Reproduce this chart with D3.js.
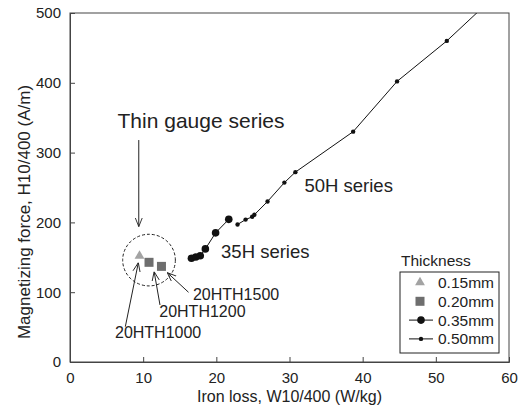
<!DOCTYPE html>
<html>
<head>
<meta charset="utf-8">
<script src="https://cdn.jsdelivr.net/npm/d3@7"></script>
<style>
  body { margin: 0; background: #fff; }
  svg { font-family: "Liberation Sans", Arial, sans-serif; }
</style>
</head>
<body>
<div id="chart"></div>
<script>
// data: [iron loss W/kg, H A/m]
const series50H = [[22.9, 197], [24.0, 204], [24.9, 208], [25.2, 211], [27.0, 230], [29.3, 257],
                   [30.8, 272], [38.7, 330], [44.7, 402], [51.5, 460], [56.4, 508]];
const series35H = [[16.6, 148.6], [17.2, 150.4], [17.8, 152.3], [18.5, 162], [19.9, 185], [21.7, 204.4]];
const thin015 = [[9.5, 152]];
const thin020 = [[10.8, 142.8], [12.5, 137]];
const xTicks = [0, 10, 20, 30, 40, 50, 60];
const yTicks = [0, 100, 200, 300, 400, 500];
const legendItems = ["0.15mm", "0.20mm", "0.35mm", "0.50mm"];

const width = 526, height = 410;
const margin = {top: 13, right: 17, bottom: 48, left: 70};

const svg = d3.select("#chart").append("svg")
    .attr("width", width)
    .attr("height", height);

const x = d3.scaleLinear().domain([0, 60]).range([margin.left, width - margin.right]);
const y = d3.scaleLinear().domain([0, 500]).range([height - margin.bottom, margin.top]);

const textCol = "#222";

// arrow marker
svg.append("defs").append("marker")
    .attr("id", "arr")
    .attr("viewBox", "0 -5 10 10")
    .attr("refX", 10).attr("refY", 0)
    .attr("markerWidth", 9).attr("markerHeight", 9)
    .attr("markerUnits", "userSpaceOnUse")
    .attr("orient", "auto")
    .append("path")
    .attr("d", "M0,-4L10,0L0,4")
    .attr("fill", "none")
    .attr("stroke", "#222")
    .attr("stroke-width", 1);

svg.select("defs").append("clipPath").attr("id", "clip")
    .append("rect")
    .attr("x", margin.left).attr("y", margin.top)
    .attr("width", x(60) - x(0)).attr("height", y(0) - y(500));

// frame
svg.append("rect")
    .attr("x", x(0)).attr("y", y(500))
    .attr("width", x(60) - x(0)).attr("height", y(0) - y(500))
    .attr("fill", "none").attr("stroke", "#444").attr("stroke-width", 1);

// axes with inward ticks
const xAxis = svg.append("g")
    .attr("transform", `translate(0,${y(0)})`)
    .call(d3.axisBottom(x).tickValues(xTicks).tickSize(-5).tickPadding(10));
const yAxis = svg.append("g")
    .attr("transform", `translate(${x(0)},0)`)
    .call(d3.axisLeft(y).tickValues(yTicks).tickSize(-5).tickPadding(9));

[xAxis, yAxis].forEach(a => {
    a.select(".domain").attr("stroke", "#444");
    a.selectAll(".tick line").attr("stroke", "#444");
    a.selectAll(".tick text").attr("font-size", 15).attr("fill", textCol).attr("font-family", null);
});

// axis titles
svg.append("text")
    .attr("x", (x(0) + x(60)) / 2).attr("y", 402)
    .attr("text-anchor", "middle").attr("font-size", 16).attr("fill", textCol)
    .text("Iron loss, W10/400 (W/kg)");
svg.append("text")
    .attr("transform", `translate(30,212) rotate(-90)`)
    .attr("text-anchor", "middle").attr("font-size", 17).attr("fill", textCol)
    .text("Magnetizing force, H10/400 (A/m)");

const line = d3.line().x(d => x(d[0])).y(d => y(d[1]));
const plot = svg.append("g").attr("clip-path", "url(#clip)");

// 50H series
plot.append("path").datum(series50H)
    .attr("d", line).attr("fill", "none").attr("stroke", "#111").attr("stroke-width", 1);
plot.selectAll(".p50").data(series50H).join("circle")
    .attr("class", "p50")
    .attr("cx", d => x(d[0])).attr("cy", d => y(d[1])).attr("r", 2.2).attr("fill", "#111");

// 35H series
plot.append("path").datum(series35H)
    .attr("d", line).attr("fill", "none").attr("stroke", "#111").attr("stroke-width", 1);
plot.selectAll(".p35").data(series35H).join("circle")
    .attr("class", "p35")
    .attr("cx", d => x(d[0])).attr("cy", d => y(d[1])).attr("r", 3.8).attr("fill", "#111");

// thin gauge
const tri = d3.symbol().type(d3.symbolTriangle).size(42);
plot.selectAll(".t15").data(thin015).join("path")
    .attr("class", "t15")
    .attr("d", tri)
    .attr("transform", d => `translate(${x(d[0])},${y(d[1])})`)
    .attr("fill", "#a3a3a3");
plot.selectAll(".t20").data(thin020).join("rect")
    .attr("class", "t20")
    .attr("x", d => x(d[0]) - 4.5).attr("y", d => y(d[1]) - 4.5)
    .attr("width", 9).attr("height", 9)
    .attr("fill", "#6e6e6e");

// dashed circle around thin gauge group
svg.append("ellipse")
    .attr("cx", x(10.8)).attr("cy", y(146))
    .attr("rx", x(10.8 + 3.6) - x(10.8)).attr("ry", y(146) - y(183))
    .attr("fill", "none").attr("stroke", "#222").attr("stroke-width", 1)
    .attr("stroke-dasharray", "3,2");

// annotations
const annots = [
    {text: "Thin gauge series", at: [6.5, 335], size: 21},
    {text: "50H series", at: [32.05, 243.5], size: 18.5},
    {text: "35H series", at: [20.65, 149.4], size: 18.5},
    {text: "20HTH1500", at: [16.8, 88.8], size: 16},
    {text: "20HTH1200", at: [12.2, 64.9], size: 16},
    {text: "20HTH1000", at: [6.15, 34.8], size: 16}
];
svg.selectAll(".annot").data(annots).join("text")
    .attr("class", "annot")
    .attr("x", d => x(d.at[0])).attr("y", d => y(d.at[1]))
    .attr("font-size", d => d.size).attr("fill", textCol)
    .text(d => d.text);

const arrows = [
    [[9.4, 318], [9.4, 194]],
    [[7.56, 50.6], [9.34, 142.3]],
    [[12.3, 81.7], [11.5, 129.4]],
    [[16.2, 99.9], [13.3, 128]]
];
svg.selectAll(".arrow").data(arrows).join("line")
    .attr("class", "arrow")
    .attr("x1", d => x(d[0][0])).attr("y1", d => y(d[0][1]))
    .attr("x2", d => x(d[1][0])).attr("y2", d => y(d[1][1]))
    .attr("stroke", "#222").attr("stroke-width", 1)
    .attr("marker-end", "url(#arr)");

// legend
const lg = svg.append("g").attr("transform", "translate(400,266)");
lg.append("text").attr("x", 1).attr("y", 0)
    .attr("font-size", 15.5).attr("fill", textCol).text("Thickness");
lg.append("rect").attr("x", 0).attr("y", 6).attr("width", 99).attr("height", 81)
    .attr("fill", "#fff").attr("stroke", "#222").attr("stroke-width", 1);

const rows = lg.selectAll(".row").data(legendItems).join("g")
    .attr("class", "row")
    .attr("transform", (d, i) => `translate(0,${16.5 + i * 18.8})`);
rows.append("text").attr("x", 38).attr("y", 5.5)
    .attr("font-size", 15.5).attr("fill", textCol).text(d => d);

rows.filter((d, i) => i === 0).append("path")
    .attr("d", tri).attr("transform", "translate(20,0)").attr("fill", "#a3a3a3");
rows.filter((d, i) => i === 1).append("rect")
    .attr("x", 15.5).attr("y", -4.5).attr("width", 9).attr("height", 9).attr("fill", "#6e6e6e");
rows.filter((d, i) => i >= 2).append("line")
    .attr("x1", 9).attr("x2", 33).attr("y1", 0).attr("y2", 0)
    .attr("stroke", "#111").attr("stroke-width", 1);
rows.filter((d, i) => i >= 2).append("circle")
    .attr("cx", 21).attr("cy", 0)
    .attr("r", (d, i) => i === 0 ? 3.8 : 2.2).attr("fill", "#111");
</script>
</body>
</html>
